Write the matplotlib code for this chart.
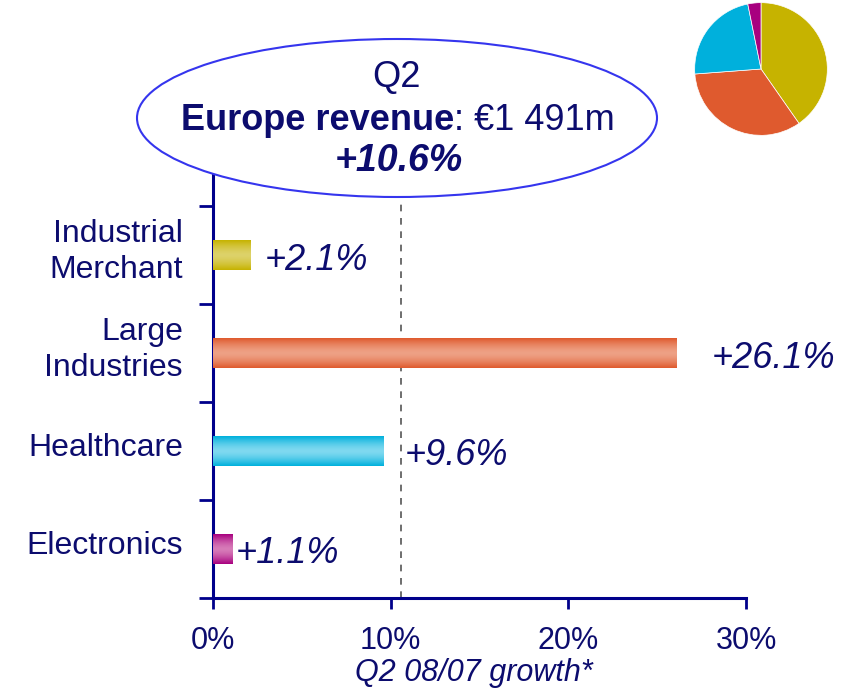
import matplotlib.pyplot as plt
import numpy as np
from matplotlib.patches import Ellipse
from matplotlib.colors import LinearSegmentedColormap

plt.rcParams['font.family'] = ['Liberation Sans', 'DejaVu Sans']

# data
categories = ["Electronics", "Healthcare", "Large\nIndustries", "Industrial\nMerchant"]
growth = [1.1, 9.6, 26.1, 2.1]
growth_labels = ["+1.1%", "+9.6%", "+26.1%", "+2.1%"]
europe_growth = 10.6
xticks = [0, 10, 20, 30]
xtick_labels = ["0%", "10%", "20%", "30%"]

# pie: share of Europe revenue (IM, LI, HC, EL)
pie_share = [40.3, 33.5, 23.0, 3.2]

navy = "#0c0c6e"
edge_cols = ["#a8007f", "#00b0dc", "#df5a2e", "#c6b300"]
mid_cols = ["#d77bb8", "#7fd9f0", "#eea185", "#ddd26a"]
pie_cols = ["#c6b300", "#df5a2e", "#00b0dc", "#a8007f"]

fig = plt.figure(figsize=(8.41, 6.89), dpi=100)
ax = fig.add_axes([0.2533, 0.1321, 0.6338, 0.6255])

ypos = np.arange(len(categories))
bars = ax.barh(ypos, growth, height=0.3, color=edge_cols, zorder=2)

# cylinder-like shading on the bars
grad = np.abs(np.linspace(-1, 1, 64)) ** 1.5
for b, c0, c1 in zip(bars, edge_cols, mid_cols):
    cmap = LinearSegmentedColormap.from_list("g", [c1, c0])
    x0, y0 = b.get_x(), b.get_y()
    im = ax.imshow(grad.reshape(-1, 1), cmap=cmap, aspect="auto",
                   extent=[x0, x0 + b.get_width(), y0, y0 + b.get_height()],
                   zorder=3, interpolation="bilinear")
    im.set_clip_path(b)

offsets = [0.15, 1.2, 1.95, 0.8]
for y, v, lab, off in zip(ypos, growth, growth_labels, offsets):
    ax.text(v + off, y - 0.05, lab, va="center", ha="left", fontsize=26,
            style="italic", color=navy)

ax.axvline(europe_growth, color="#555555", linestyle=(0, (4, 4)), lw=1.2, zorder=1)

ax.set_xlim(0, 30)
ax.set_ylim(-0.5, 3.9)
ax.set_xticks(xticks)
ax.set_xticklabels(xtick_labels, fontsize=22, color=navy)
ax.set_yticks(np.append(ypos - 0.5, ypos[-1] + 0.5))
ax.set_yticklabels([])
ax.tick_params(axis="x", direction="out", length=8, width=2, color="#00008b", pad=12)
ax.tick_params(axis="y", direction="out", length=10, width=2, color="#00008b")
for y, cat in zip(ypos, categories):
    ax.text(-1.7, y + 0.03, cat, ha="right", va="center", fontsize=23,
            color=navy, linespacing=1.25)
for s in ["top", "right"]:
    ax.spines[s].set_visible(False)
for s in ["left", "bottom"]:
    ax.spines[s].set_color("#00008b")
    ax.spines[s].set_linewidth(2.2)

# axis title sits against the bottom edge
fig.text(474 / 841, 1.5 / 689, "Q2 08/07 growth*", ha="center", va="bottom",
         fontsize=22, style="italic", color=navy)

# ellipse with headline
fig.add_artist(Ellipse((397 / 841, 1 - 118 / 689), 520 / 841, 158 / 689,
                       transform=fig.transFigure, facecolor="white",
                       edgecolor="#3535ee", lw=1.5, zorder=5))
fig.text(397 / 841, 1 - 77 / 689, "Q2", ha="center", va="center", fontsize=26,
         color=navy, zorder=6)
fig.text(454 / 841, 1 - 120 / 689, "Europe revenue", ha="right", va="center",
         fontsize=26, fontweight="bold", color=navy, zorder=6)
fig.text(454 / 841, 1 - 120 / 689, ": €1 491m", ha="left", va="center",
         fontsize=26, color=navy, zorder=6)
fig.text(399 / 841, 1 - 161 / 689, f"+{europe_growth}%", ha="center", va="center",
         fontsize=27, fontweight="bold", style="italic", color=navy, zorder=6)

# small pie
pax = fig.add_axes([(761 - 67) / 841, 1 - (69 + 67) / 689, 134 / 841, 134 / 689])
pax.pie(pie_share, colors=pie_cols, startangle=90, counterclock=False,
        wedgeprops=dict(linewidth=0.5, edgecolor="white"))
pax.set_xlim(-1.01, 1.01)
pax.set_ylim(-1.01, 1.01)
pax.set_aspect("equal")

fig.savefig("out.png", dpi=100)
